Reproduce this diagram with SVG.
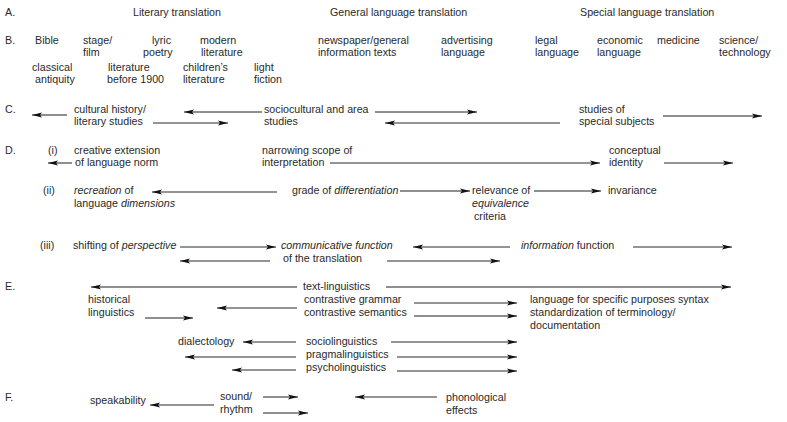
<svg xmlns="http://www.w3.org/2000/svg" width="787" height="422" viewBox="0 0 787 422">
<defs>
<style>
text{font-family:"Liberation Sans",Arial,sans-serif;font-size:10.7px;fill:#2a2a2a}
.i{font-style:italic}
.k{stroke:#1e1e1e;stroke-width:1;fill:none;marker-end:url(#ah)}
.g{stroke:#707070;stroke-width:1.4;fill:none;marker-end:url(#ah)}
</style>
<marker id="ah" markerUnits="userSpaceOnUse" markerWidth="11" markerHeight="6" refX="10" refY="2.6" orient="auto">
<path d="M10,2.6 L0,0 L2,2.6 L0,5.2 Z" fill="#111"/>
</marker>
</defs>
<rect width="787" height="422" fill="#fff"/>

<g id="row-labels">
<text x="5" y="16">A.</text>
<text x="5" y="44">B.</text>
<text x="5" y="113">C.</text>
<text x="5" y="154">D.</text>
<text x="5" y="290">E.</text>
<text x="5" y="401">F.</text>
</g>

<g id="A-literary"><text x="133" y="16">Literary translation</text></g>
<g id="A-general"><text x="330" y="16">General language translation</text></g>
<g id="A-special"><text x="580" y="16">Special language translation</text></g>

<g id="B-bible"><text x="35" y="43.5">Bible</text></g>
<g id="B-stage"><text x="83" y="43.5">stage/</text><text x="83" y="55.5">film</text></g>
<g id="B-lyric"><text x="152" y="43.5">lyric</text><text x="143" y="55.5">poetry</text></g>
<g id="B-modern"><text x="200" y="43.5">modern</text><text x="201" y="55.5">literature</text></g>
<g id="B-classical"><text x="32" y="70.5">classical</text><text x="35" y="82.5">antiquity</text></g>
<g id="B-before1900"><text x="108" y="70.5">literature</text><text x="107" y="82.5">before 1900</text></g>
<g id="B-children"><text x="183" y="70.5">children’s</text><text x="183" y="82.5">literature</text></g>
<g id="B-light"><text x="254" y="70.5">light</text><text x="254" y="82.5">fiction</text></g>
<g id="B-newspaper"><text x="318" y="43.5">newspaper/general</text><text x="318" y="55.5">information texts</text></g>
<g id="B-advertising"><text x="441" y="43.5">advertising</text><text x="441" y="55.5">language</text></g>
<g id="B-legal"><text x="535" y="43.5">legal</text><text x="535" y="55.5">language</text></g>
<g id="B-economic"><text x="597" y="43.5">economic</text><text x="597" y="55.5">language</text></g>
<g id="B-medicine"><text x="657" y="43.5">medicine</text></g>
<g id="B-science"><text x="719" y="43.5">science/</text><text x="719" y="55.5">technology</text></g>

<g id="C-cultural"><text x="74" y="113">cultural history/</text><text x="74" y="125">literary studies</text></g>
<g id="C-sociocultural"><text x="264" y="113">sociocultural and area</text><text x="264" y="125">studies</text></g>
<g id="C-special"><text x="579" y="113">studies of</text><text x="579" y="125">special subjects</text></g>

<g id="D-i"><text x="48" y="154">(i)</text></g>
<g id="D-creative"><text x="74" y="154">creative extension</text><text x="75" y="166">of language norm</text></g>
<g id="D-narrowing"><text x="262" y="154">narrowing scope of</text><text x="262" y="166">interpretation</text></g>
<g id="D-conceptual"><text x="609" y="154">conceptual</text><text x="609" y="166">identity</text></g>

<g id="D-ii"><text x="43" y="194">(ii)</text></g>
<g id="D-recreation"><text x="74" y="194"><tspan class="i">recreation</tspan> of</text><text x="74" y="207">language <tspan class="i">dimensions</tspan></text></g>
<g id="D-grade"><text x="292" y="194">grade of <tspan class="i">differentiation</tspan></text></g>
<g id="D-relevance"><text x="472" y="194">relevance of</text><text x="472" y="207" class="i">equivalence</text><text x="474" y="220">criteria</text></g>
<g id="D-invariance"><text x="608" y="194">invariance</text></g>

<g id="D-iii"><text x="40" y="249">(iii)</text></g>
<g id="D-shifting"><text x="73" y="249">shifting of <tspan class="i">perspective</tspan></text></g>
<g id="D-communicative"><text x="281" y="249" class="i">communicative function</text><text x="283" y="262">of the translation</text></g>
<g id="D-information"><text x="521" y="249"><tspan class="i">information</tspan> function</text></g>

<g id="E-text"><text x="303" y="290">text-linguistics</text></g>
<g id="E-historical"><text x="88" y="303">historical</text><text x="88" y="316">linguistics</text></g>
<g id="E-contrastive"><text x="304" y="303">contrastive grammar</text><text x="304" y="316">contrastive semantics</text></g>
<g id="E-lsp"><text x="530" y="303">language for specific purposes syntax</text><text x="530" y="316">standardization of terminology/</text><text x="530" y="329">documentation</text></g>
<g id="E-dialectology"><text x="178" y="345">dialectology</text></g>
<g id="E-socio"><text x="306" y="345">sociolinguistics</text></g>
<g id="E-pragma"><text x="306" y="358">pragmalinguistics</text></g>
<g id="E-psycho"><text x="306" y="371">psycholinguistics</text></g>

<g id="F-speakability"><text x="90" y="404">speakability</text></g>
<g id="F-sound"><text x="220" y="400">sound/</text><text x="220" y="413">rhythm</text></g>
<g id="F-phonological"><text x="446" y="401">phonological</text><text x="446" y="414">effects</text></g>

<g id="connectors">
<line class="k" x1="67" y1="115" x2="32" y2="115"/>
<line class="g" x1="153" y1="123" x2="228" y2="123"/>
<line class="k" x1="262" y1="112" x2="184" y2="112"/>
<line class="k" x1="375" y1="112" x2="477" y2="112"/>
<line class="g" x1="560" y1="123" x2="385" y2="123"/>
<line class="k" x1="663" y1="116" x2="762" y2="116"/>

<line class="k" x1="72" y1="163" x2="48" y2="163"/>
<line class="g" x1="330" y1="163" x2="600" y2="163"/>
<line class="g" x1="664" y1="163" x2="733" y2="163"/>

<line class="g" x1="277" y1="192" x2="152" y2="192"/>
<line class="k" x1="400" y1="191" x2="470" y2="191"/>
<line class="k" x1="534" y1="191" x2="601" y2="191"/>

<line class="g" x1="180" y1="247" x2="276" y2="247"/>
<line class="g" x1="270" y1="261" x2="180" y2="261"/>
<line class="g" x1="387" y1="261" x2="500" y2="261"/>
<line class="g" x1="510" y1="247" x2="413" y2="247"/>
<line class="g" x1="633" y1="247" x2="732" y2="247"/>

<line class="k" x1="297" y1="287" x2="91" y2="287"/>
<line class="k" x1="386" y1="287" x2="731" y2="287"/>
<line class="k" x1="145" y1="318" x2="193" y2="318"/>
<line class="g" x1="297" y1="308" x2="217" y2="308"/>
<line class="g" x1="414" y1="303" x2="517" y2="303"/>
<line class="k" x1="414" y1="316" x2="517" y2="316"/>
<line class="g" x1="296" y1="342" x2="243" y2="342"/>
<line class="g" x1="391" y1="342" x2="517" y2="342"/>
<line class="g" x1="296" y1="357" x2="185" y2="357"/>
<line class="g" x1="397" y1="357" x2="517" y2="357"/>
<line class="g" x1="296" y1="370" x2="232" y2="370"/>
<line class="g" x1="397" y1="371" x2="517" y2="371"/>

<line class="g" x1="214" y1="405" x2="150" y2="405"/>
<line class="k" x1="263" y1="397" x2="298" y2="397"/>
<line class="k" x1="263" y1="413" x2="308" y2="413"/>
<line class="g" x1="437" y1="397" x2="355" y2="397"/>
</g>
</svg>
